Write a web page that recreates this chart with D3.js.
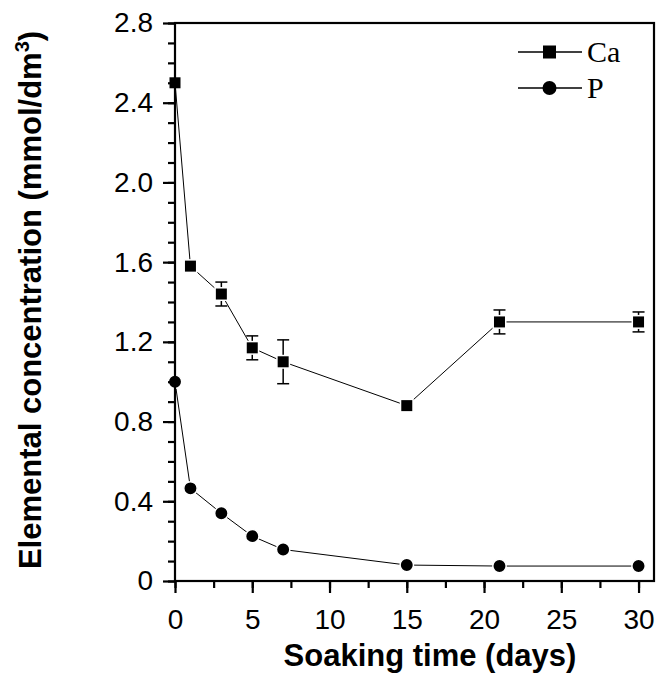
<!DOCTYPE html>
<html><head><meta charset="utf-8">
<script src="https://cdn.jsdelivr.net/npm/d3@7"></script>
<style>body{margin:0;background:#fff}</style>
</head><body>
<script>
const days = [0, 1, 3, 5, 7, 15, 21, 30];
const caValues = [2.50, 1.58, 1.44, 1.17, 1.10, 0.88, 1.30, 1.30];
const caErrors = [0, 0, 0.06, 0.06, 0.11, 0, 0.06, 0.05];
const pValues = [1.00, 0.465, 0.34, 0.225, 0.158, 0.08, 0.075, 0.075];
const yTicks = [0, 0.4, 0.8, 1.2, 1.6, 2.0, 2.4, 2.8];
const xTicks = [0, 5, 10, 15, 20, 25, 30];
const seriesNames = ["Ca", "P"];

const W = 662, H = 673;
const L = 175, R = 654, T = 23, B = 581;
const svg = d3.select("body").append("svg").attr("width", W).attr("height", H);
const x = d3.scaleLinear().domain([0, 31]).range([L, R]);
const y = d3.scaleLinear().domain([0, 2.8]).range([B, T]);

const line = d3.line().x((d, i) => x(days[i])).y(d => y(d));
svg.append("path").datum(caValues).attr("d", line).attr("fill", "none").attr("stroke", "#000").attr("stroke-width", 1);
svg.append("path").datum(pValues).attr("d", line).attr("fill", "none").attr("stroke", "#000").attr("stroke-width", 1);

// error bars
const eb = svg.append("g").attr("stroke", "#000").attr("stroke-width", 1.5);
caValues.forEach((v, i) => {
  const e = caErrors[i]; if (!e) return;
  const cx = x(days[i]);
  eb.append("line").attr("x1", cx).attr("x2", cx).attr("y1", y(v + e)).attr("y2", y(v - e));
  eb.append("line").attr("x1", cx - 6).attr("x2", cx + 6).attr("y1", y(v + e)).attr("y2", y(v + e));
  eb.append("line").attr("x1", cx - 6).attr("x2", cx + 6).attr("y1", y(v - e)).attr("y2", y(v - e));
});

const sq = 12.5, cr = 6.7;
svg.append("g").selectAll("rect").data(caValues).join("rect")
  .attr("x", (d, i) => x(days[i]) - sq / 2).attr("y", d => y(d) - sq / 2)
  .attr("width", sq).attr("height", sq).attr("fill", "#000").attr("stroke", "#fff").attr("stroke-width", 1.5);
svg.append("g").selectAll("circle").data(pValues).join("circle")
  .attr("cx", (d, i) => x(days[i])).attr("cy", d => y(d)).attr("r", cr)
  .attr("fill", "#000").attr("stroke", "#fff").attr("stroke-width", 1.5);

// axes
const fmtY = d => d === 0 ? "0" : d3.format(".1f")(d);
const yMinor = d3.range(0, 2.81, 0.1);
const xMinor = d3.range(0, 31, 2.5);
const gyMin = svg.append("g").attr("transform", `translate(${L},0)`)
  .call(d3.axisLeft(y).tickValues(yMinor).tickSize(7).tickFormat(""));
const gy = svg.append("g").attr("transform", `translate(${L},0)`)
  .call(d3.axisLeft(y).tickValues(yTicks).tickSize(12).tickPadding(10).tickFormat(fmtY));
const gxMin = svg.append("g").attr("transform", `translate(0,${B})`)
  .call(d3.axisBottom(x).tickValues(xMinor).tickSize(7).tickFormat(""));
const gx = svg.append("g").attr("transform", `translate(0,${B})`)
  .call(d3.axisBottom(x).tickValues(xTicks).tickSize(12).tickPadding(16).tickFormat(d3.format("d")));
[gyMin, gy, gxMin, gx].forEach(g => {
  g.select(".domain").remove();
  g.selectAll(".tick line").attr("stroke", "#000").attr("stroke-width", 2.2);
  g.selectAll("text").attr("fill", "#000").style("font-family", "Liberation Sans, Arial, sans-serif").style("font-size", "28px");
});
// box
svg.append("rect").attr("x", L).attr("y", T).attr("width", R - L).attr("height", B - T)
  .attr("fill", "none").attr("stroke", "#000").attr("stroke-width", 2.2);

// titles
svg.append("text").attr("x", 430).attr("y", 666).attr("text-anchor", "middle")
  .style("font-family", "Liberation Sans, Arial, sans-serif").style("font-size", "31px").style("font-weight", "bold")
  .text("Soaking time (days)");
const yt = svg.append("text").attr("transform", "translate(41,300) rotate(-90)").attr("text-anchor", "middle")
  .style("font-family", "Liberation Sans, Arial, sans-serif").style("font-size", "31px").style("font-weight", "bold");
yt.append("tspan").text("Elemental concentration (mmol/dm");
yt.append("tspan").attr("dy", -12).style("font-size", "20px").text("3");
yt.append("tspan").attr("dy", 12).text(")");

// legend
const lg = svg.append("g");
seriesNames.forEach((n, i) => {
  const ly = 52 + i * 36;
  lg.append("line").attr("x1", 518).attr("x2", 582).attr("y1", ly).attr("y2", ly).attr("stroke", "#000").attr("stroke-width", 1.5);
  if (i === 0) lg.append("rect").attr("x", 543).attr("y", ly - 6.5).attr("width", 13).attr("height", 13).attr("fill", "#000");
  else lg.append("circle").attr("cx", 549.5).attr("cy", ly).attr("r", 7).attr("fill", "#000");
  lg.append("text").attr("x", 587).attr("y", ly + 10).text(n)
    .style("font-family", "Liberation Serif, Times New Roman, serif").style("font-size", "30px").attr("fill", "#000");
});
</script>
</body></html>
